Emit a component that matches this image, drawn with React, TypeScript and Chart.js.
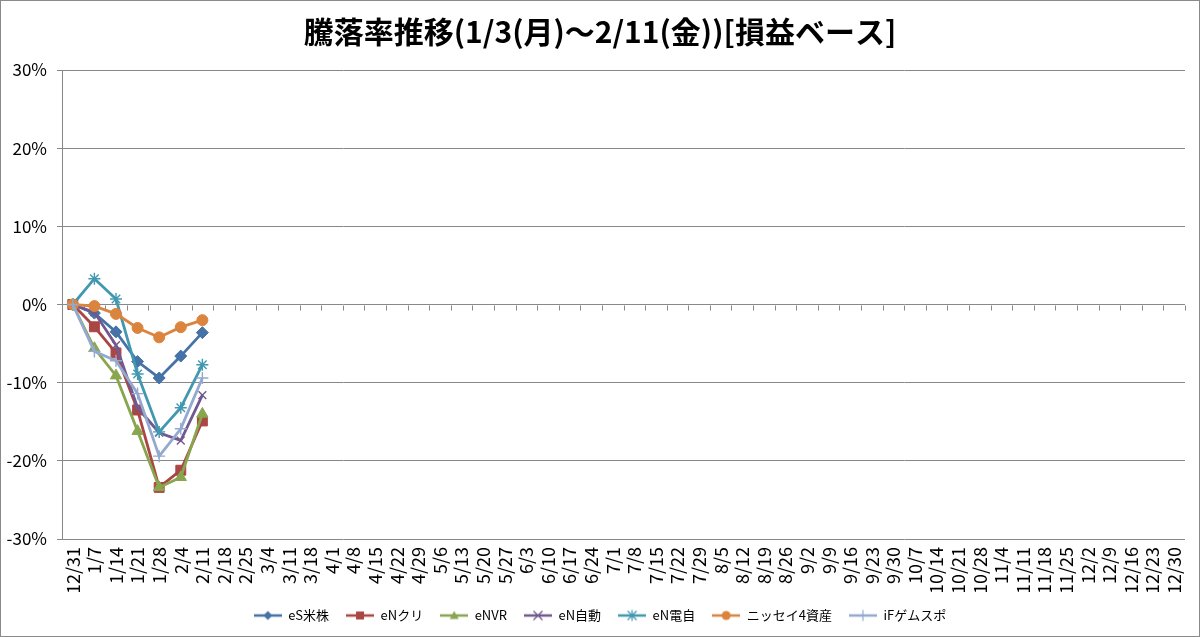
import React, { useEffect, useRef } from "react";
import { Chart, registerables } from "chart.js";

Chart.register(...registerables);

const TITLE = "騰落率推移(1/3(月)～2/11(金))[損益ベース]";

const categories = [
  "12/31", "1/7", "1/14", "1/21", "1/28", "2/4", "2/11", "2/18", "2/25",
  "3/4", "3/11", "3/18", "4/1", "4/8", "4/15", "4/22", "4/29",
  "5/6", "5/13", "5/20", "5/27", "6/3", "6/10", "6/17", "6/24",
  "7/1", "7/8", "7/15", "7/22", "7/29", "8/5", "8/12", "8/19", "8/26",
  "9/2", "9/9", "9/16", "9/23", "9/30", "10/7", "10/14", "10/21", "10/28",
  "11/4", "11/11", "11/18", "11/25", "12/2", "12/9", "12/16", "12/23", "12/30",
];

const seriesNames = ["eS米株", "eNクリ", "eNVR", "eN自動", "eN電自", "ニッセイ4資産", "iFゲムスポ"];

const esBeikabu = [0, -1.1, -3.5, -7.3, -9.4, -6.6, -3.6];
const enKuri = [0, -2.85, -6.2, -13.5, -23.4, -21.2, -14.9];
const enNVR = [0, -5.6, -9.1, -16.2, -23.4, -22.1, -14.0];
const enJidou = [0, -1.0, -5.2, -13.2, -16.4, -17.4, -11.6];
const enDenji = [0, 3.3, 0.7, -8.9, -16.3, -13.2, -7.7];
const nissei4 = [0, -0.2, -1.2, -3.0, -4.2, -2.9, -2.0];
const ifGemspo = [0, -6.0, -7.2, -11.4, -19.4, -15.9, -9.4];

const seriesValues = [esBeikabu, enKuri, enNVR, enJidou, enDenji, nissei4, ifGemspo];

const yTicks = [-30, -20, -10, 0, 10, 20, 30];

const colors = ["#4572A7", "#AA4643", "#89A54E", "#71588F", "#4198AF", "#DB843D", "#93A9CF"];
const markers = ["rectRot", "rect", "triangle", "crossRot", "star", "circle", "cross"];
const radii = [6, 7, 6.5, 5.5, 6, 5.5, 6];

const FONT = "'Noto Sans CJK JP', 'Noto Sans', sans-serif";
const GRID = "#888888";

function makeIcon(color: string, style: string): HTMLCanvasElement {
  const c = document.createElement("canvas");
  c.width = 28;
  c.height = 14;
  const ctx = c.getContext("2d")!;
  const x = 14, y = 7;
  ctx.strokeStyle = color;
  ctx.fillStyle = color;
  ctx.lineWidth = 2.5;
  ctx.beginPath();
  ctx.moveTo(0, y);
  ctx.lineTo(28, y);
  ctx.stroke();
  ctx.lineWidth = 1.2;
  const r = 4.5;
  ctx.beginPath();
  if (style === "rectRot") {
    ctx.moveTo(x, y - r); ctx.lineTo(x + r, y); ctx.lineTo(x, y + r); ctx.lineTo(x - r, y); ctx.closePath(); ctx.fill();
  } else if (style === "rect") {
    ctx.rect(x - 4, y - 4, 8, 8); ctx.fill();
  } else if (style === "triangle") {
    ctx.moveTo(x, y - r); ctx.lineTo(x + r, y + 3.5); ctx.lineTo(x - r, y + 3.5); ctx.closePath(); ctx.fill();
  } else if (style === "circle") {
    ctx.arc(x, y, 4.5, 0, Math.PI * 2); ctx.fill();
  } else if (style === "crossRot") {
    ctx.moveTo(x - r, y - r); ctx.lineTo(x + r, y + r); ctx.moveTo(x + r, y - r); ctx.lineTo(x - r, y + r); ctx.stroke();
  } else if (style === "star") {
    ctx.moveTo(x - r, y - r); ctx.lineTo(x + r, y + r); ctx.moveTo(x + r, y - r); ctx.lineTo(x - r, y + r);
    ctx.moveTo(x, y - r - 1); ctx.lineTo(x, y + r + 1); ctx.stroke();
  } else if (style === "cross") {
    ctx.moveTo(x - r - 1, y); ctx.lineTo(x + r + 1, y); ctx.moveTo(x, y - r - 1); ctx.lineTo(x, y + r + 1); ctx.stroke();
  }
  return c;
}

const zeroTicksPlugin = {
  id: "zeroTicks",
  beforeDatasetsDraw(chart: any) {
    const xs = chart.scales.x;
    const ys = chart.scales.y;
    const y0 = Math.round(ys.getPixelForValue(0)) + 0.5;
    const n = categories.length;
    const w = (xs.right - xs.left) / n;
    const ctx = chart.ctx;
    ctx.save();
    ctx.strokeStyle = GRID;
    ctx.lineWidth = 1;
    ctx.beginPath();
    for (let i = 1; i <= n; i++) {
      const px = Math.round(xs.left + i * w) + 0.5;
      ctx.moveTo(px, y0);
      ctx.lineTo(px, y0 + 5);
    }
    ctx.stroke();
    ctx.restore();
  },
};

export default function App() {
  const ref = useRef<HTMLCanvasElement>(null);

  useEffect(() => {
    document.body.style.margin = "0";
    document.body.style.background = "#ffffff";
    const icons = colors.map((c, i) => makeIcon(c, markers[i]));
    const datasets = seriesNames.map((name, i) => {
      const data: (number | null)[] = categories.map((_, j) =>
        j < seriesValues[i].length ? seriesValues[i][j] : null
      );
      const open = markers[i] === "crossRot" || markers[i] === "star" || markers[i] === "cross";
      return {
        label: name,
        data,
        borderColor: colors[i],
        backgroundColor: colors[i],
        borderWidth: 2.8,
        pointStyle: markers[i],
        pointRadius: radii[i],
        pointBackgroundColor: colors[i],
        pointBorderColor: colors[i],
        pointBorderWidth: open ? 1.4 : 1,
        tension: 0,
        spanGaps: false,
        order: -i,
      };
    });

    const chart = new Chart(ref.current!, {
      type: "line",
      data: { labels: categories, datasets: datasets as any },
      plugins: [zeroTicksPlugin],
      options: {
        animation: false,
        responsive: false,
        devicePixelRatio: 1,
        layout: { padding: { left: 0, right: 0, top: 0, bottom: 4 } },
        plugins: {
          tooltip: { enabled: false },
          title: {
            display: true,
            text: TITLE,
            color: "#000000",
            font: { family: FONT, size: 30, weight: "bold" },
            padding: { top: 13, bottom: 20 },
          },
          legend: {
            display: true,
            position: "bottom",
            labels: {
              usePointStyle: true,
              pointStyleWidth: 28,
              boxHeight: 14,
              padding: 17,
              color: "#000000",
              font: { family: FONT, size: 13 },
              generateLabels: (ch: any) =>
                ch.data.datasets.map((ds: any, i: number) => ({
                  text: ds.label,
                  pointStyle: icons[i],
                  fillStyle: colors[i],
                  strokeStyle: colors[i],
                  lineWidth: 0,
                  hidden: false,
                  datasetIndex: i,
                  fontColor: "#000000",
                })),
            },
          },
        },
        scales: {
          x: {
            type: "category",
            offset: true,
            border: { display: false },
            grid: { display: true, drawOnChartArea: false, drawTicks: false },
            ticks: {
              autoSkip: false,
              minRotation: 90,
              maxRotation: 90,
              padding: 8,
              color: "#000000",
              font: { family: FONT, size: 18 },
            },
            afterFit: (s: any) => {
              s.height = 53;
              s.paddingLeft = 0;
              s.paddingRight = 14;
            },
          },
          y: {
            type: "linear",
            min: -30,
            max: 30,
            afterBuildTicks: (s: any) => {
              s.ticks = yTicks.map((v) => ({ value: v }));
            },
            border: { display: true, color: GRID, width: 1 },
            grid: { color: GRID, lineWidth: 1, drawTicks: true, tickLength: 5 },
            ticks: {
              padding: 10,
              color: "#000000",
              font: { family: FONT, size: 17 },
              callback: (v: any) => v + "%",
            },
            afterFit: (s: any) => {
              s.width = 61;
            },
          },
        },
      },
    });
    return () => chart.destroy();
  }, []);

  return (
    <div
      style={{
        width: 1200,
        height: 637,
        border: "1px solid #8a8a8a",
        boxSizing: "border-box",
        background: "#fff",
      }}
    >
      <canvas ref={ref} width={1198} height={635} style={{ display: "block", width: 1198, height: 635 }} />
    </div>
  );
}
